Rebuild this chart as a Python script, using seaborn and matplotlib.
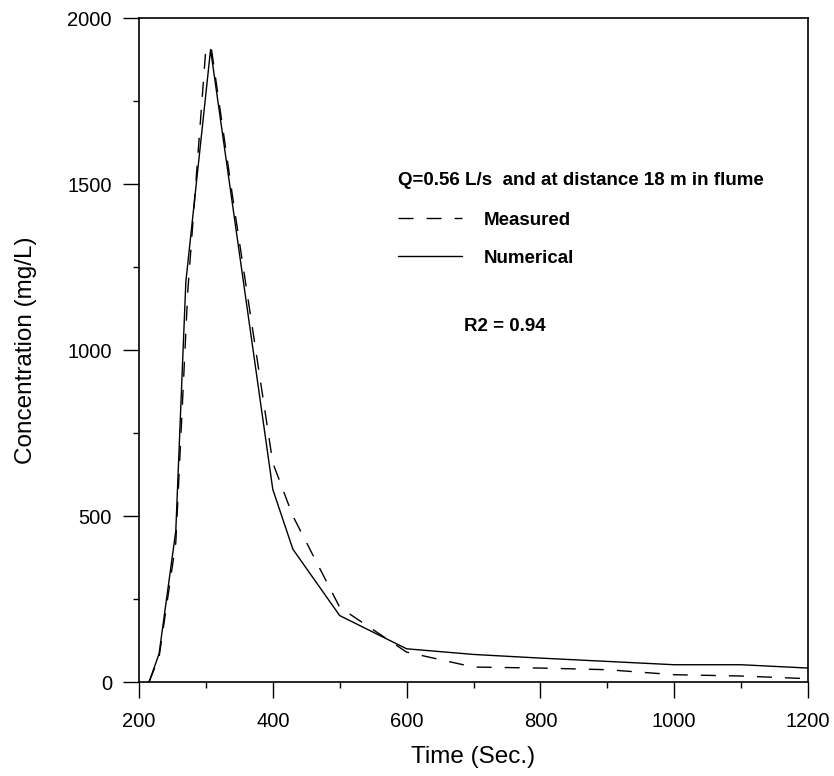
import matplotlib
matplotlib.use("Agg")
import matplotlib.pyplot as plt
import seaborn as sns
import pandas as pd

# ---- data ----
meas_t = [215, 230, 255, 273, 300, 308, 340, 400, 430, 500, 600, 700, 800, 900, 1000, 1100, 1200]
meas_c = [0, 75, 420, 1180, 1910, 1910, 1460, 660, 500, 225, 90, 45, 42, 37, 22, 18, 10]
num_t = [215, 230, 255, 270, 307, 400, 430, 500, 600, 700, 800, 900, 1000, 1100, 1200]
num_c = [0, 85, 455, 1205, 1905, 580, 400, 200, 100, 83, 72, 62, 52, 52, 42]
x_ticks = [200, 400, 600, 800, 1000, 1200]
y_ticks = [0, 500, 1000, 1500, 2000]

title_txt = "Q=0.56 L/s  and at distance 18 m in flume"
r2_txt = "R2 = 0.94"

sns.set_style("ticks")
plt.rcParams['font.family'] = ['Liberation Sans', 'DejaVu Sans']
plt.rcParams.update({'text.color': 'black', 'axes.labelcolor': 'black',
                     'xtick.color': 'black', 'ytick.color': 'black'})

fig = plt.figure(figsize=(8.34, 7.76), dpi=100)
ax = fig.add_axes([139/834, 94/776, 669/834, 664/776])

dash = (0, (10.8, 9.4))
sns.lineplot(x=meas_t, y=meas_c, ax=ax, color='black', lw=1.0, linestyle=dash,
             sort=False, label='Measured')
sns.lineplot(x=num_t, y=num_c, ax=ax, color='black', lw=1.0, sort=False,
             label='Numerical')

ax.set_xlim(200, 1200)
ax.set_ylim(0, 2000)
ax.set_xticks(x_ticks)
ax.set_yticks(y_ticks)
ax.set_xticks([300, 500, 700, 900, 1100], minor=True)
ax.set_yticks([250, 750, 1250, 1750], minor=True)
ax.tick_params(which='major', direction='out', length=11.5, width=1, labelsize=14.5, colors='black')
ax.tick_params(which='minor', direction='out', length=4.5, width=1, colors='black')
ax.tick_params(axis='x', which='major', pad=10)
ax.tick_params(axis='y', which='major', pad=8)
for s in ax.spines.values():
    s.set_linewidth(1.2)
    s.set_color('black')

ax.set_xlabel("Time (Sec.)", fontsize=17.5, labelpad=11, color='black')
ax.set_ylabel("Concentration (mg/L)", fontsize=17.5, labelpad=22, color='black')

leg = ax.legend(loc='upper left', bbox_to_anchor=(0.387, 0.7675), frameon=False,
                title=title_txt, alignment='left', borderpad=0, borderaxespad=0,
                handlelength=3.4, handletextpad=1.17, labelspacing=1.12,
                prop={'weight': 'bold', 'size': 13.5},
                title_fontproperties={'weight': 'bold', 'size': 13.5},
                labelcolor='black')
leg.get_title().set_color('black')
leg._legend_box.sep = 16

ax.text(0.486, 0.535, r2_txt, transform=ax.transAxes, fontsize=13.5,
        fontweight='bold', va='center', ha='left', color='black')

fig.savefig("out.png", dpi=100)
